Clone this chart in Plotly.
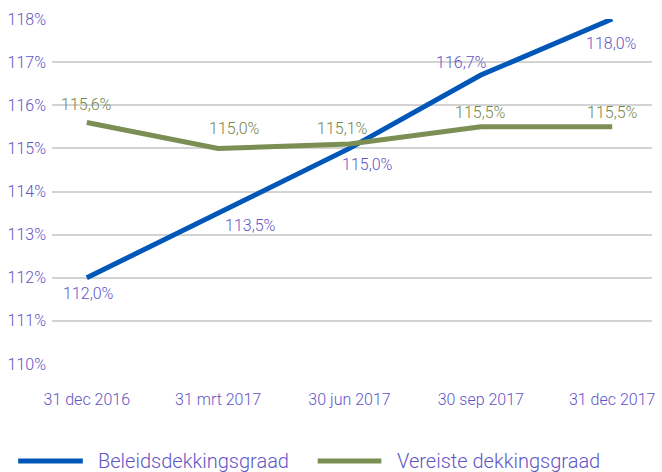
import plotly.graph_objects as go

categories = ["31 dec 2016", "31 mrt 2017", "30 jun 2017", "30 sep 2017", "31 dec 2017"]
beleids = [112.0, 113.5, 115.0, 116.7, 118.0]
vereist = [115.6, 115.0, 115.1, 115.5, 115.5]
series_names = ["Beleidsdekkingsgraad", "Vereiste dekkingsgraad"]
y_ticks = [110, 111, 112, 113, 114, 115, 116, 117, 118]

BLUE = "#0057b8"
GREEN = "#72864c"
TXT = "#5f55c6"
FONT = "Roboto"
WEIGHT = 300

W, H = 662, 472
ML, MR, MT, MB = 52, 7, 19, 108
PW = W - ML - MR
PH = H - MT - MB

# label offsets in pixels (dx, dy; dy positive = downward)
blue_off = [(2, 16), (32, 12), (18, 16), (-19, -13), (-1, 24)]
green_off = [(0, -18), (16, -20), (-7, -16), (0, -14), (0, -14)]


def fmt(v):
    return f"{v:.1f}".replace(".", ",") + "%"


fig = go.Figure()
fig.add_trace(go.Scatter(x=categories, y=beleids, mode="lines", name=series_names[0],
                         line=dict(color=BLUE, width=5), showlegend=False, cliponaxis=False))
fig.add_trace(go.Scatter(x=categories, y=vereist, mode="lines", name=series_names[1],
                         line=dict(color="#7b8f55", width=5), showlegend=False, cliponaxis=False))

for vals, offs, col in [(beleids, blue_off, TXT), (vereist, green_off, GREEN)]:
    for c, v, (dx, dy) in zip(categories, vals, offs):
        fig.add_annotation(x=c, y=v, text=fmt(v), showarrow=False, xshift=dx, yshift=-dy,
                           font=dict(family=FONT, size=16, color=col, weight=WEIGHT))


def px_x(p):
    return (p - ML) / PW


def px_y(p):
    return (H - MB - p) / PH


# custom legend
legend_y = 461
for (x0, x1, tx), name, col in [((18, 83, 96), series_names[0], BLUE),
                                ((319, 383, 397), series_names[1], "#7b8f55")]:
    fig.add_shape(type="line", xref="paper", yref="paper", x0=px_x(x0), x1=px_x(x1),
                  y0=px_y(legend_y), y1=px_y(legend_y), line=dict(color=col, width=5))
    fig.add_annotation(xref="paper", yref="paper", x=px_x(tx), y=px_y(legend_y), text=name,
                       showarrow=False, xanchor="left", yanchor="middle",
                       font=dict(family=FONT, size=20, color=TXT, weight=WEIGHT))

fig.update_layout(
    width=W, height=H,
    margin=dict(l=ML, r=MR, t=MT, b=MB),
    paper_bgcolor="white", plot_bgcolor="white",
    font=dict(family=FONT, size=16, color=TXT, weight=WEIGHT),
    showlegend=False,
)
fig.update_xaxes(type="category", range=[-0.265, 4.303], showgrid=False, zeroline=False,
                 showline=False, ticks="", ticklabelstandoff=24,
                 tickfont=dict(family=FONT, size=16, color=TXT, weight=WEIGHT))
fig.update_yaxes(range=[110, 118], tickvals=y_ticks, ticktext=[f"{t}%" for t in y_ticks],
                 showgrid=True, gridcolor="#d3d3d3", gridwidth=1.5, zeroline=False,
                 showline=False, ticks="", ticklabelstandoff=5,
                 tickfont=dict(family=FONT, size=16, color=TXT, weight=WEIGHT))

fig.write_html("out.html")
